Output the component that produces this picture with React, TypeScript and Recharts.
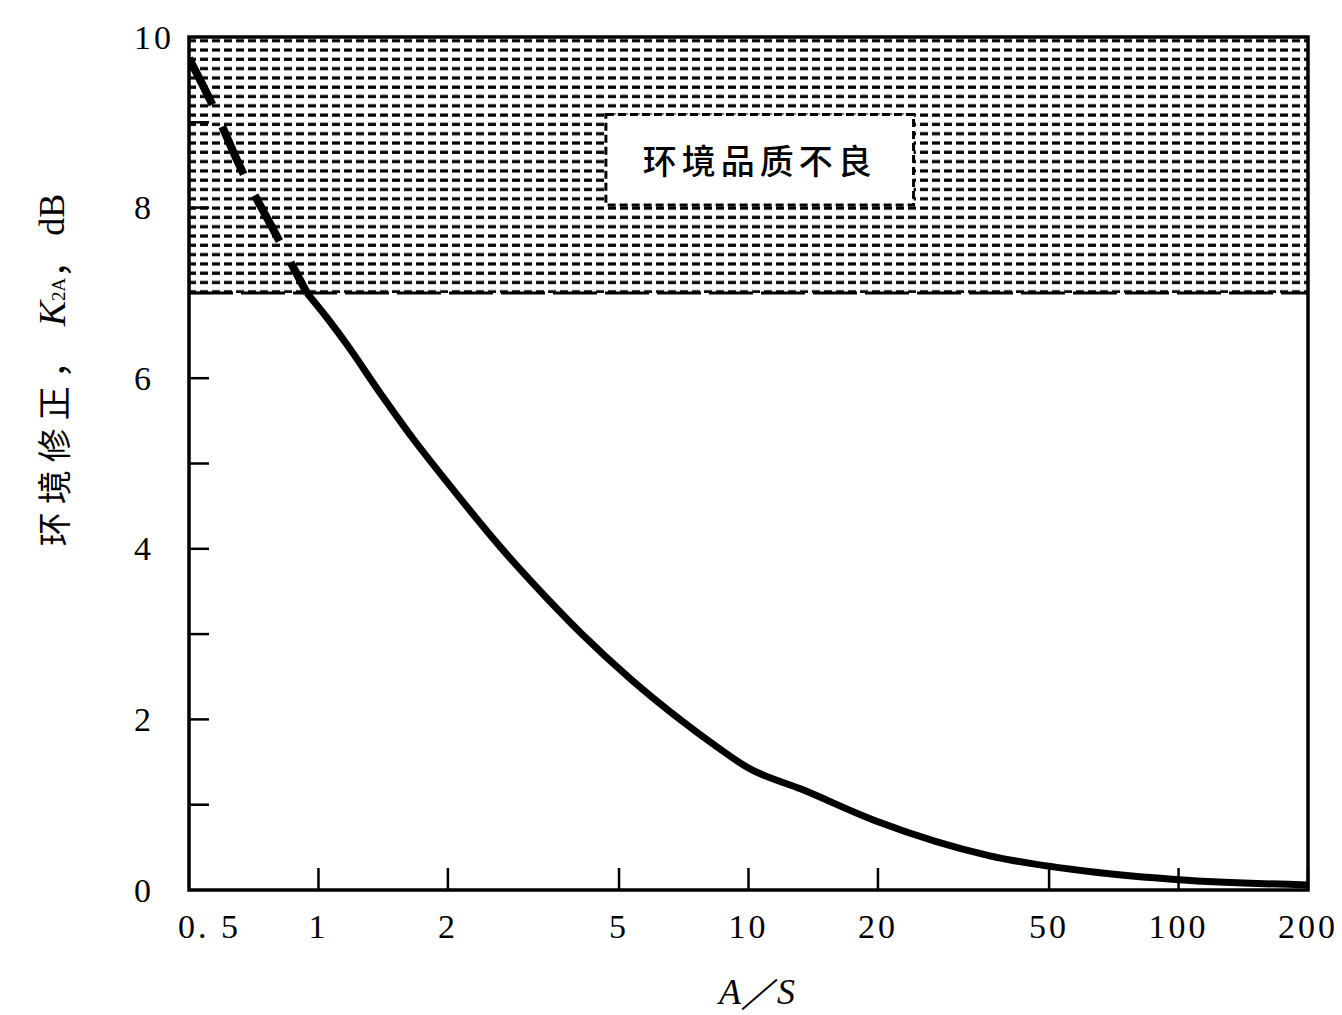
import { LineChart, Line, XAxis, YAxis, ReferenceArea, ReferenceLine } from "recharts";

// A/S ratio and the environment correction K2A (dB)
const ratio = [0.5, 0.57, 0.66, 0.78, 0.94, 1.05, 1.17, 1.39, 1.66, 2.0, 2.65, 3.12, 4.08, 5.33, 6.97, 8.33, 10, 13.3, 20, 36.4, 63.4, 100, 200];
const k2a = [9.75, 9.18, 8.46, 7.77, 7.0, 6.7, 6.38, 5.83, 5.29, 4.77, 4.02, 3.62, 3.01, 2.47, 1.99, 1.7, 1.43, 1.18, 0.8, 0.4, 0.21, 0.12, 0.06];
const dashedEnd = 0.94;

const xTicks = [0.5, 1, 2, 5, 10, 20, 50, 100, 200];
const xTickLabels = ["0. 5", "1", "2", "5", "10", "20", "50", "100", "200"];
const yTicks = [0, 1, 2, 3, 4, 5, 6, 7, 8, 9, 10];

const poorLimit = 7;
const poorLabel = "环境品质不良";
const poorBox = { x1: 4.66, x2: 24.2, y1: 8.03, y2: 9.09 };

const data = ratio.map((r, i) => ({
  r,
  dashed: r <= dashedEnd ? k2a[i] : null,
  solid: r >= dashedEnd ? k2a[i] : null
}));

const numFont = "'Liberation Serif', 'DejaVu Serif', serif";
const cjkFont = "'Noto Sans CJK SC', sans-serif";

function XTick({ x, y, payload }: any) {
  const i = xTicks.indexOf(payload.value);
  const label = xTickLabels[i] ?? String(payload.value);
  const first = i === 0;
  return (
    <g>
      {!first && <line x1={x} x2={x} y1={y} y2={y - 22} stroke="#000" strokeWidth={2.5} />}
      <text
        x={first ? x - 11 : x}
        y={y + 36}
        textAnchor={first ? "start" : "middle"}
        dominantBaseline="central"
        fontFamily={numFont}
        fontSize={34}
        letterSpacing={3}
        fill="#000"
      >
        {label}
      </text>
    </g>
  );
}

function YTick({ x, y, payload }: any) {
  const v = payload.value;
  const edge = v === 0 || v === 10;
  return (
    <g>
      {!edge && <line x1={x} x2={x + 20} y1={y} y2={y} stroke="#000" strokeWidth={2.5} />}
      {v % 2 === 0 && (
        <text x={x - 55} y={y} textAnchor="start" dominantBaseline="central" fontFamily={numFont} fontSize={34} letterSpacing={3} fill="#000">
          {v}
        </text>
      )}
    </g>
  );
}

function BoxLabel({ viewBox }: any) {
  if (!viewBox) return null;
  const { x, y, width, height } = viewBox;
  return (
    <text
      x={x + width / 2}
      y={y + height / 2}
      textAnchor="middle"
      dominantBaseline="central"
      fontFamily={cjkFont}
      fontSize={34}
      fontWeight={500}
      letterSpacing={5}
      fill="#000"
    >
      {poorLabel}
    </text>
  );
}

export default function App() {
  return (
    <LineChart width={1334} height={1007} data={data} margin={{ top: 29, right: 34, bottom: 0, left: 0 }}>
      <defs>
        <pattern id="hatch" patternUnits="userSpaceOnUse" width="12" height="9.3">
          <rect x="0" y="3.2" width="8" height="3.2" fill="#000" />
        </pattern>
      </defs>
      <XAxis
        dataKey="r"
        type="number"
        scale="log"
        domain={[0.5, 200]}
        ticks={xTicks}
        allowDataOverflow
        axisLine={false}
        tickLine={false}
        tickSize={0}
        tickMargin={0}
        height={125}
        tick={<XTick />}
        interval={0}
      />
      <YAxis
        type="number"
        domain={[0, 10]}
        ticks={yTicks}
        axisLine={false}
        tickLine={false}
        tickSize={0}
        tickMargin={0}
        width={181}
        tick={<YTick />}
        interval={0}
      />
      <ReferenceArea x1={0.5} x2={200} y1={poorLimit} y2={10} fill="url(#hatch)" fillOpacity={1} stroke="none" />
      <ReferenceLine y={poorLimit} stroke="#000" strokeWidth={3} strokeDasharray="44 8" />
      <ReferenceArea
        x1={poorBox.x1}
        x2={poorBox.x2}
        y1={poorBox.y1}
        y2={poorBox.y2}
        fill="#fff"
        fillOpacity={1}
        stroke="#000"
        strokeWidth={3}
        strokeDasharray="8 4"
        label={<BoxLabel />}
      />
      <ReferenceArea x1={0.5} x2={200} y1={0} y2={10} fill="none" stroke="#000" strokeWidth={3.5} />
      <Line
        dataKey="dashed"
        type="monotone"
        stroke="#000"
        strokeWidth={8}
        strokeDasharray="52 24"
        dot={false}
        activeDot={false}
        isAnimationActive={false}
      />
      <Line
        dataKey="solid"
        type="monotone"
        stroke="#000"
        strokeWidth={7}
        dot={false}
        activeDot={false}
        isAnimationActive={false}
      />
      <text x={44} y={362} transform="rotate(-90 44 362)" textAnchor="middle" dominantBaseline="central" fill="#000" fontSize={34}>
        <tspan fontFamily={cjkFont} letterSpacing={8}>环境修正，</tspan>
        <tspan fontFamily={numFont} fontStyle="italic" fontSize={38} dx={10}>K</tspan>
        <tspan fontFamily={numFont} fontSize={19} dy={6}>2A</tspan>
        <tspan fontFamily={cjkFont} dy={-6}>，</tspan>
        <tspan fontFamily={numFont} fontSize={36} dx={8}>dB</tspan>
      </text>
      <text x={749} y={996} textAnchor="middle" fill="#000" fontFamily={numFont} fontStyle="italic" fontSize={36}>
        A／S
      </text>
    </LineChart>
  );
}
